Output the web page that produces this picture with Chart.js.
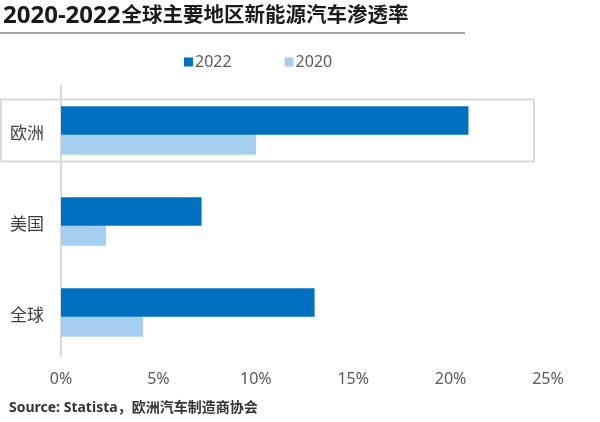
<!DOCTYPE html>
<html>
<head>
<meta charset="utf-8">
<script src="https://cdn.jsdelivr.net/npm/chart.js@4"></script>
<style>
  html, body { margin: 0; padding: 0; background: #fff; }
  #wrap { width: 600px; height: 422px; }
</style>
</head>
<body>
<div id="wrap"><canvas id="chart" width="600" height="422"></canvas></div>
<script>
// Data
const regions = ["欧洲", "美国", "全球"];
const share2022 = [20.9, 7.2, 13.0];
const share2020 = [10.0, 2.3, 4.2];
const xTicks = [0, 5, 10, 15, 20, 25];

const titleYears = "2020-2022";
const titleText = "全球主要地区新能源汽车渗透率";
const sourceText = "Source: Statista，欧洲汽车制造商协会";

const FONT = '"Noto Sans", "Noto Sans CJK SC", sans-serif';

// Title, underline, legend, axis line, highlight box, source
const decorations = {
    id: "decorations",
    beforeDatasetsDraw(chart) {
        const ctx = chart.ctx;
        const area = chart.chartArea;
        const x0 = chart.scales.x.getPixelForValue(0);
        ctx.save();
        ctx.strokeStyle = "#d9d9d9";
        ctx.lineWidth = 2;
        ctx.beginPath();
        ctx.moveTo(x0, area.top - 4);
        ctx.lineTo(x0, area.bottom - 5);
        ctx.stroke();

        // box around the first category
        const top = chart.getDatasetMeta(0).data[0];
        const bottom = chart.getDatasetMeta(1).data[0];
        const y1 = top.y - top.height / 2 - 7;
        const y2 = bottom.y + bottom.height / 2 + 7;
        ctx.strokeRect(1, y1, area.right - 14 - 1, y2 - y1);
        ctx.restore();
    },
    afterDraw(chart) {
        const ctx = chart.ctx;
        ctx.save();
        // title: years part is set a bit wider than the Chinese part
        ctx.fillStyle = "#1a1a1a";
        ctx.textBaseline = "middle";
        ctx.textAlign = "left";
        ctx.font = 'bold 24px ' + FONT;
        ctx.fillText(titleYears, 3, 16);
        const w = ctx.measureText(titleYears).width;
        ctx.font = 'bold 20.5px ' + FONT;
        ctx.fillText(titleText, 3 + w + 1, 16);

        ctx.strokeStyle = "#8a8a8a";
        ctx.lineWidth = 1.5;
        ctx.beginPath();
        ctx.moveTo(0, 33);
        ctx.lineTo(465, 33);
        ctx.stroke();

        // legend
        ctx.font = '16px ' + FONT;
        let x = 184;
        chart.data.datasets.forEach((ds) => {
            ctx.fillStyle = ds.backgroundColor;
            ctx.fillRect(x, 57.5, 9, 9);
            ctx.fillStyle = "#595959";
            ctx.fillText(ds.label, x + 11, 62.5);
            x += 11 + ctx.measureText(ds.label).width + 53;
        });

        // source
        ctx.fillStyle = "#333333";
        ctx.font = 'bold 14px ' + FONT;
        ctx.fillText(sourceText, 9, 408.5);
        ctx.restore();
    }
};

new Chart(document.getElementById("chart"), {
    type: "bar",
    data: {
        labels: regions,
        datasets: [
            {
                label: "2022",
                data: share2022,
                backgroundColor: "#0070c0",
                barThickness: 28
            },
            {
                label: "2020",
                data: share2020,
                backgroundColor: "#a6cef0",
                barThickness: 20
            }
        ]
    },
    options: {
        indexAxis: "y",
        responsive: false,
        animation: false,
        layout: {
            padding: { top: 89, right: 52, bottom: 33, left: 10 }
        },
        plugins: {
            legend: { display: false },
            title: { display: false },
            tooltip: { enabled: false }
        },
        scales: {
            x: {
                min: 0,
                max: 25,
                afterBuildTicks: (axis) => {
                    axis.ticks = xTicks.map((v) => ({ value: v }));
                },
                afterFit: (axis) => {
                    axis.height = 27;
                },
                grid: { display: false, drawTicks: false },
                border: { display: false },
                ticks: {
                    padding: 8,
                    color: "#595959",
                    font: { family: FONT, size: 16 },
                    callback: (value) => value + "%"
                }
            },
            y: {
                afterFit: (axis) => {
                    axis.width = 51;
                },
                grid: { display: false, drawTicks: false },
                border: { display: false },
                ticks: {
                    padding: 17,
                    color: "#404040",
                    font: { family: FONT, size: 17 }
                }
            }
        }
    },
    plugins: [decorations]
});
</script>
</body>
</html>
